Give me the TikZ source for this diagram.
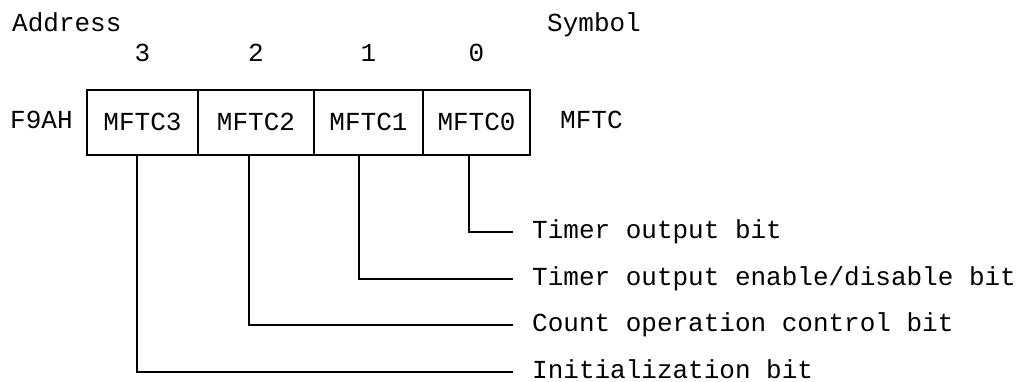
\documentclass[tikz,border=0pt]{standalone}
\usepackage{fontspec}
\setmainfont{Liberation Mono}
\begin{document}
\begin{tikzpicture}[x=1pt,y=1pt,
  every node/.style={font=\fontsize{26}{30}\selectfont, inner sep=0pt},
  cell/.style={draw, line width=1.1pt, minimum height=65pt, text height=15pt, text depth=0pt},
  lbl/.style={anchor=west, inner xsep=19pt, inner ysep=0pt, text height=12pt, text depth=0pt},
  conn/.style={line width=1.1pt}]
\useasboundingbox (0,0) rectangle (1019,381);
\node[anchor=base west] (addr) at (12,349) {Address};
\node[anchor=base west] (sym) at (547,349) {Symbol};
\node[anchor=base west] (f9ah) at (10,253) {F9AH};
\node[cell, minimum width=111pt] (c3) at (142.5,258.5) {MFTC3};
\node[cell, minimum width=116pt] (c2) at (256,258.5) {MFTC2};
\node[cell, minimum width=109pt] (c1) at (368.5,258.5) {MFTC1};
\node[cell, minimum width=107pt] (c0) at (476.5,258.5) {MFTC0};
\node[anchor=base west] (mftc) at (560,253) {MFTC};
\node[anchor=base] (b3) at (142.5,319) {3};
\node[anchor=base] (b2) at (256,319) {2};
\node[anchor=base] (b1) at (368.5,319) {1};
\node[anchor=base] (b0) at (476.5,319) {0};
\node[lbl] (l0) at (513,149) {Timer output bit};
\node[lbl] (l1) at (513,102) {Timer output enable/disable bit};
\node[lbl] (l2) at (513,56) {Count operation control bit};
\node[lbl] (l3) at (513,9) {Initialization bit};
\draw[conn] ([xshift=-7.5pt]c0.south) |- (l0.west);
\draw[conn] ([xshift=-9.5pt]c1.south) |- (l1.west);
\draw[conn] ([xshift=-7pt]c2.south) |- (l2.west);
\draw[conn] ([xshift=-5.5pt]c3.south) |- (l3.west);
\end{tikzpicture}
\end{document}
